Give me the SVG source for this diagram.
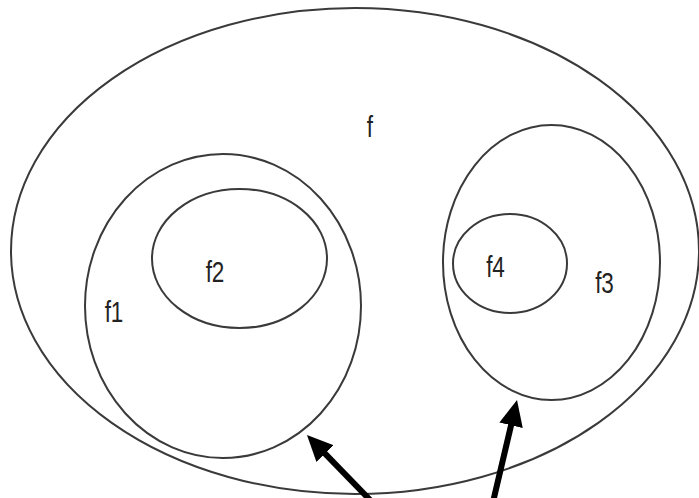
<svg xmlns="http://www.w3.org/2000/svg" width="699" height="498" viewBox="0 0 699 498">
<style>
.set{fill:none;stroke:#3a3a3a;stroke-width:2}
.lbl{font-family:"Liberation Sans",Arial,sans-serif;font-size:30px;fill:#222;text-anchor:middle}
.arr{stroke:#000;stroke-width:6;fill:none;marker-end:url(#head)}
</style>
<defs>
<marker id="head" markerUnits="userSpaceOnUse" markerWidth="28" markerHeight="26" refX="8" refY="12" orient="auto">
<path d="M0,0 L26,12 L0,24 z" fill="#000"/>
</marker>
</defs>
<rect width="699" height="498" fill="#fff"/>
<g id="f">
<ellipse class="set" cx="355" cy="251" rx="344" ry="243"/>
<text class="lbl" transform="translate(370,137) scale(0.75,1)">f</text>
</g>
<g id="f1">
<ellipse class="set" cx="223" cy="306" rx="138" ry="152"/>
<text class="lbl" transform="translate(114,322) scale(0.75,1)">f1</text>
</g>
<g id="f2">
<ellipse class="set" cx="239.5" cy="258.5" rx="87.5" ry="69.5"/>
<text class="lbl" transform="translate(215,282) scale(0.75,1)">f2</text>
</g>
<g id="f3">
<ellipse class="set" cx="551.5" cy="262.5" rx="108.5" ry="137.5"/>
<text class="lbl" transform="translate(604.5,293) scale(0.75,1)">f3</text>
</g>
<g id="f4">
<ellipse class="set" cx="510" cy="263.5" rx="57" ry="49.5"/>
<text class="lbl" transform="translate(495.5,277) scale(0.75,1)">f4</text>
</g>
<g id="connectors">
<line class="arr" x1="372" y1="502" x2="319.5" y2="447.9"/>
<line class="arr" x1="493" y1="502" x2="512.9" y2="417.5"/>
</g>
</svg>
